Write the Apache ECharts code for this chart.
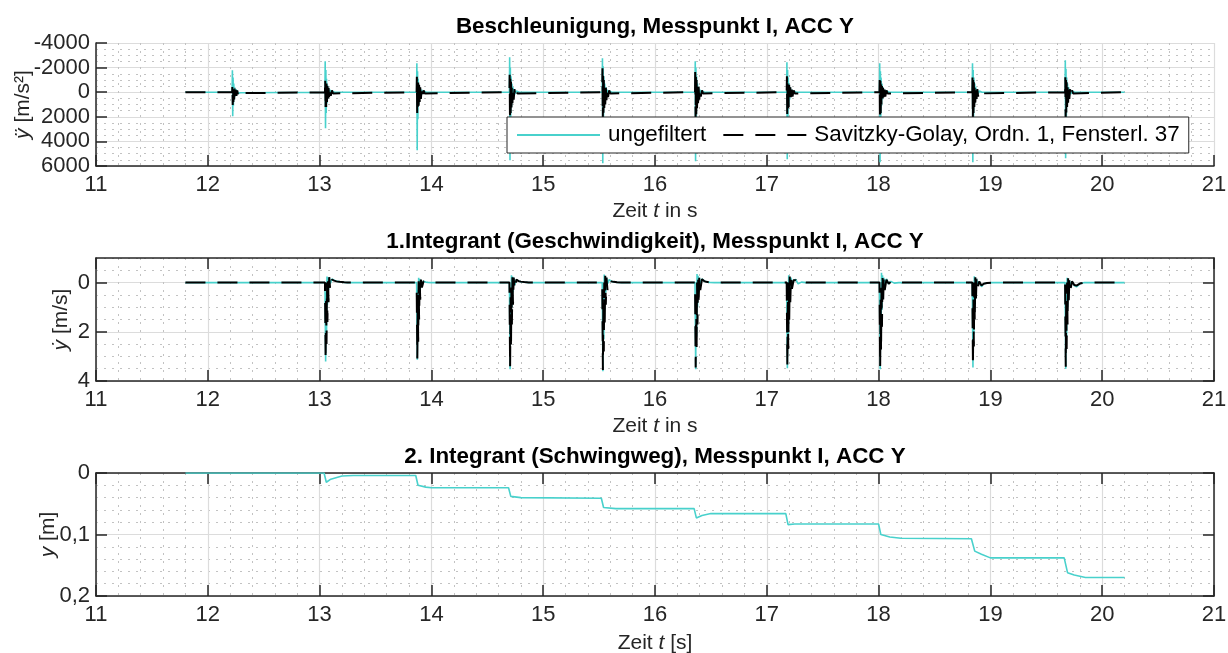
<!DOCTYPE html>
<html><head><meta charset="utf-8">
<script src="https://cdn.jsdelivr.net/npm/echarts@6/dist/echarts.min.js"></script>
<style>html,body{margin:0;padding:0;background:#fff}#c{width:1228px;height:653px}</style>
</head><body><div id="c"></div>
<script>
// ---------- data ----------
const timeRange = [11.8, 20.2];

// acceleration bursts (m/s^2), sampled at accOffsets after each impact
const accImpactTimes = [12.22, 13.05, 13.87, 14.70, 15.53, 16.36, 17.18, 18.01, 18.84, 19.67];
const accOffsets = [0, 0.003, 0.006, 0.009, 0.012, 0.016, 0.02, 0.025, 0.03, 0.036, 0.043, 0.05, 0.06, 0.07, 0.085];
const accRaw = [
  [-1790, 1950, -1200, 1100, -700, 600, -400, 350, -250, 200, -150, 100, -60, 40, 0],
  [-2520, 2930, -1800, 1700, -1100, 900, -600, 500, -350, 300, -200, 150, -100, 50, 0],
  [-2360, 4720, -1700, 2200, -1100, 1000, -600, 500, -350, 300, -200, 150, -100, 50, 0],
  [-2850, 5530, -2000, 2400, -1300, 1200, -700, 600, -400, 300, -200, 150, -100, 50, 0],
  [-2760, 5770, -2100, 2500, -1300, 1200, -700, 600, -400, 300, -200, 150, -100, 50, 0],
  [-2520, 5610, -2000, 2400, -1300, 1200, -700, 600, -400, 300, -200, 150, -100, 50, 0],
  [-2440, 5450, -1800, 2300, -1200, 1100, -700, 600, -400, 300, -200, 150, -100, 50, 0],
  [-2360, 5690, -1700, 2400, -1200, 1100, -700, 600, -400, 300, -200, 150, -100, 50, 0],
  [-2360, 5690, -1800, 2400, -1200, 1100, -700, 600, -400, 300, -200, 150, -100, 50, 0],
  [-2600, 5370, -1900, 2300, -1200, 1100, -700, 600, -400, 300, -200, 150, -100, 50, 0]
];
const accFilt = [
  [-590, 1030, -500, 800, -400, 600, -300, 450, -200, 300, -150, 200, -100, 80, 0],
  [-1140, 1440, -900, 1200, -700, 900, -500, 650, -350, 450, -250, 300, -150, 100, 0],
  [-1250, 1860, -1000, 1500, -800, 1100, -600, 800, -400, 550, -250, 350, -150, 100, 0],
  [-1410, 2300, -1100, 1700, -850, 1250, -600, 900, -400, 600, -250, 350, -150, 100, 0],
  [-1950, 2500, -1400, 1900, -1000, 1400, -700, 1000, -450, 650, -300, 400, -150, 100, 0],
  [-2030, 2400, -1400, 1800, -1000, 1300, -700, 900, -450, 600, -300, 350, -150, 100, 0],
  [-1300, 2030, -1000, 1600, -800, 1200, -600, 850, -400, 550, -250, 350, -150, 100, 0],
  [-1000, 2300, -900, 1700, -700, 1200, -500, 850, -350, 550, -250, 350, -150, 100, 0],
  [-1220, 2300, -1000, 1700, -800, 1200, -550, 850, -350, 550, -250, 350, -150, 100, 0],
  [-1220, 2200, -1000, 1650, -800, 1200, -550, 850, -350, 550, -250, 350, -150, 100, 0]
];

// velocity bursts (m/s)
const velImpactTimes = [13.05, 13.87, 14.70, 15.53, 16.36, 17.18, 18.01, 18.84, 19.67];
const velOffsets = [0, 0.004, 0.008, 0.012, 0.016, 0.02, 0.025, 0.03, 0.036, 0.045, 0.06, 0.08, 0.1, 0.13, 0.17, 0.2];
const velRaw = [
  [0, 3.21, 0.4, 2.0, -0.25, 0.9, -0.22, 0.3, -0.2, 0.05, -0.15, -0.1, -0.06, -0.03, -0.01, 0],
  [0, 3.14, 0.3, 1.9, -0.2, 0.8, -0.15, 0.3, -0.1, 0.05, -0.05, -0.02, -0.01, 0, 0, 0],
  [0, 3.52, 0.4, 2.2, -0.3, 1.0, -0.25, 0.4, -0.2, 0.1, -0.12, -0.06, -0.04, -0.02, 0, 0],
  [0, 3.60, 0.5, 2.3, -0.33, 1.1, -0.25, 0.4, -0.2, 0.05, -0.12, -0.05, -0.03, -0.01, 0, 0],
  [0, 3.52, 0.5, 2.2, -0.35, 1.0, -0.28, 0.4, -0.2, 0.05, -0.15, -0.06, -0.03, -0.01, 0, 0],
  [0, 3.48, 0.4, 2.2, -0.3, 1.0, -0.22, 0.35, -0.2, 0.05, -0.1, -0.12, 0.05, -0.02, 0, 0],
  [0, 3.52, 0.5, 2.3, -0.4, 1.1, -0.3, 0.4, -0.2, 0.1, -0.15, 0.05, -0.05, 0.02, 0, 0],
  [0, 3.45, 0.4, 2.1, -0.26, 0.9, -0.2, 0.3, -0.15, 0.05, -0.05, 0.17, 0.05, 0.02, 0, 0],
  [0, 3.50, 0.5, 2.2, -0.2, 1.0, -0.15, 0.4, -0.1, 0.15, -0.05, 0.12, 0.17, 0.05, 0, 0]
];
const velFilt = [
  [0, 3.15, 0.6, 2.5, 0.0, 1.6, -0.2, 0.8, -0.22, 0.3, -0.12, -0.08, -0.05, -0.03, -0.01, 0],
  [0, 3.08, 0.5, 2.4, -0.05, 1.5, -0.18, 0.7, -0.12, 0.2, -0.06, -0.03, -0.01, 0, 0, 0],
  [0, 3.45, 0.6, 2.7, 0.0, 1.7, -0.25, 0.9, -0.2, 0.3, -0.12, -0.06, -0.04, -0.02, 0, 0],
  [0, 3.55, 0.7, 2.8, 0.0, 1.8, -0.28, 0.9, -0.2, 0.3, -0.12, -0.05, -0.03, -0.01, 0, 0],
  [0, 3.45, 0.7, 2.7, 0.0, 1.7, -0.3, 0.9, -0.22, 0.3, -0.14, -0.06, -0.03, -0.01, 0, 0],
  [0, 3.42, 0.6, 2.7, 0.0, 1.7, -0.25, 0.8, -0.2, 0.25, -0.1, -0.1, 0.04, -0.02, 0, 0],
  [0, 3.45, 0.7, 2.8, 0.0, 1.8, -0.35, 0.9, -0.2, 0.3, -0.12, 0.05, -0.04, 0.02, 0, 0],
  [0, 3.38, 0.6, 2.6, 0.0, 1.6, -0.22, 0.8, -0.15, 0.25, -0.05, 0.12, 0.05, 0.02, 0, 0],
  [0, 3.42, 0.7, 2.7, 0.0, 1.7, -0.18, 0.9, -0.1, 0.3, -0.05, 0.1, 0.12, 0.04, 0, 0]
];

// displacement (m)
const dispTime = [11.8, 13.04, 13.06, 13.1, 13.2, 13.3, 13.86, 13.88, 13.95, 14.0, 14.69, 14.71, 14.8, 15.52, 15.54, 15.65,
  16.35, 16.37, 16.42, 16.5, 17.17, 17.19, 17.25, 18.0, 18.02, 18.1, 18.2, 18.83, 18.86, 18.92, 19.0, 19.66, 19.69, 19.75, 19.85, 20.2];
const dispValue = [0, 0, 0.015, 0.01, 0.005, 0.004, 0.004, 0.02, 0.023, 0.024, 0.024, 0.038, 0.040, 0.041, 0.056, 0.058,
  0.058, 0.073, 0.069, 0.066, 0.066, 0.084, 0.083, 0.083, 0.1, 0.104, 0.106, 0.107, 0.127, 0.132, 0.138, 0.138, 0.162, 0.166, 0.170, 0.170];

const titles = ['Beschleunigung, Messpunkt I, ACC Y', '1.Integrant (Geschwindigkeit), Messpunkt I, ACC Y', '2. Integrant (Schwingweg), Messpunkt I, ACC Y'];
const legendNames = ['ungefiltert', 'Savitzky-Golay, Ordn. 1, Fensterl. 37'];

// ---------- build ----------
function buildBursts(times, offsets, bursts) {
  const d = [[timeRange[0], 0]];
  times.forEach((t0, i) => {
    d.push([t0 - 0.002, 0]);
    offsets.forEach((o, k) => d.push([t0 + o, bursts[i][k]]));
  });
  d.push([timeRange[1], 0]);
  return d;
}
const accRawData = buildBursts(accImpactTimes, accOffsets, accRaw);
const accFiltData = buildBursts(accImpactTimes, accOffsets, accFilt);
const velRawData = buildBursts(velImpactTimes, velOffsets, velRaw);
const velFiltData = buildBursts(velImpactTimes, velOffsets, velFilt);
const dispData = dispTime.map((t, i) => [t, dispValue[i]]);

const FONT = '"Liberation Sans", Arial, Helvetica, sans-serif';
const AX = '#262626';
const CYAN = '#48D1CC';
const MAJ = '#dcdcdc';
const MIN = '#c2c2c2';
const gridTops = [43, 258, 473];
const gridH = 123;
const FS = 22;

function nameStyle() {
  return { fontSize: 21, color: AX, fontFamily: FONT,
    rich: { i: { fontStyle: 'italic', fontSize: 21, color: AX, fontFamily: FONT } } };
}
function mainX(gi, name, gap) {
  return { type: 'value', gridIndex: gi, min: 11, max: 21, interval: 1, position: 'bottom',
    name: name, nameLocation: 'middle', nameGap: gap, nameTextStyle: nameStyle(), nameMoveOverlap: false,
    axisLine: { show: true, onZero: false, lineStyle: { color: AX, width: 1.5 } },
    axisTick: { show: true, inside: true, length: 11, lineStyle: { color: AX, width: 1.5 } },
    axisLabel: { show: true, margin: 8, fontSize: FS, color: AX, fontFamily: FONT, hideOverlap: false },
    splitLine: { show: true, lineStyle: { color: MAJ, width: 1.2 } },
    minorTick: { show: false, splitNumber: 5 },
    minorSplitLine: { show: true, lineStyle: { color: MIN, width: 1, type: [2, 6] } }
  };
}
function mirrorX(gi) {
  return { type: 'value', gridIndex: gi, min: 11, max: 21, interval: 1, position: 'top',
    axisLine: { show: true, onZero: false, lineStyle: { color: AX, width: 1.5 } },
    axisTick: { show: true, inside: true, length: 11, lineStyle: { color: AX, width: 1.5 } },
    axisLabel: { show: false }, splitLine: { show: false } };
}
const yLabel = { show: true, margin: 6, fontSize: FS, color: AX, fontFamily: FONT, hideOverlap: false };

const option = {
  animation: false,
  backgroundColor: '#fff',
  textStyle: { fontFamily: FONT },
  title: titles.map((t, i) => ({
    text: t, left: 655, textAlign: 'center', top: gridTops[i] - 27, padding: 0,
    textStyle: { fontSize: 22.4, fontWeight: 'bold', color: '#000', fontFamily: FONT }
  })),
  legend: {
    data: legendNames, left: 507, top: 117, orient: 'horizontal',
    padding: [7, 9], itemWidth: 83, itemHeight: 14, itemGap: 16,
    backgroundColor: '#fff', borderColor: AX, borderWidth: 1, borderRadius: 0,
    selectedMode: false,
    itemStyle: { color: 'rgba(0,0,0,0)', borderWidth: 0, opacity: 0 },
    textStyle: { fontSize: 22.4, color: '#000', fontFamily: FONT, padding: [0, 0, 0, 3] }
  },
  grid: gridTops.map(t => ({ left: 96, right: 14, top: t, height: gridH, containLabel: false, outerBoundsMode: 'none' })),
  xAxis: [
    mainX(0, 'Zeit {i|t} in s', 35),
    mainX(1, 'Zeit {i|t} in s', 35),
    mainX(2, 'Zeit {i|t} [s]', 37),
    mirrorX(1),
    mirrorX(2)
  ],
  yAxis: [
    { type: 'value', gridIndex: 0, min: -4000, max: 6000, interval: 2000, inverse: true, position: 'left',
      name: '{i|ÿ} [m/s²]', nameLocation: 'middle', nameGap: 62, nameRotate: 90, nameTextStyle: nameStyle(), nameMoveOverlap: false,
      axisLine: { show: true, onZero: false, lineStyle: { color: AX, width: 1.5 } },
      axisTick: { show: true, inside: true, length: 11, lineStyle: { color: AX, width: 1.5 } },
      axisLabel: Object.assign({ formatter: v => String(v) }, yLabel),
      splitLine: { show: true, lineStyle: { color: MAJ, width: 1.2 } },
      minorTick: { show: false, splitNumber: 4 },
      minorSplitLine: { show: true, lineStyle: { color: MIN, width: 1, type: [2, 6] } } },
    { type: 'value', gridIndex: 1, min: -1, max: 4, inverse: true, position: 'left',
      name: '{i|ẏ} [m/s]', nameLocation: 'middle', nameGap: 24, nameRotate: 90, nameTextStyle: nameStyle(), nameMoveOverlap: false,
      axisLine: { show: true, onZero: false, lineStyle: { color: AX, width: 1.5 } },
      axisTick: { show: true, inside: true, length: 11, customValues: [0, 2, 4], lineStyle: { color: AX, width: 1.5 } },
      axisLabel: Object.assign({ customValues: [0, 2, 4], formatter: v => String(v) }, yLabel),
      splitLine: { show: true, lineStyle: { color: MAJ, width: 1.2 } } },
    { type: 'value', gridIndex: 2, min: 0, max: 0.2, interval: 0.1, inverse: true, position: 'left',
      name: '{i|y} [m]', nameLocation: 'middle', nameGap: 37, nameRotate: 90, nameTextStyle: nameStyle(), nameMoveOverlap: false,
      axisLine: { show: true, onZero: false, lineStyle: { color: AX, width: 1.5 } },
      axisTick: { show: true, inside: true, length: 11, lineStyle: { color: AX, width: 1.5 } },
      axisLabel: Object.assign({ formatter: v => String(Number(v.toFixed(3))).replace('.', ',') }, yLabel),
      splitLine: { show: true, lineStyle: { color: MAJ, width: 1.2 } },
      minorTick: { show: false, splitNumber: 5 },
      minorSplitLine: { show: true, lineStyle: { color: MIN, width: 1, type: [2, 6] } } },
    { type: 'value', gridIndex: 1, min: -1, max: 4, inverse: true, position: 'right',
      axisLine: { show: true, onZero: false, lineStyle: { color: AX, width: 1.5 } },
      axisTick: { show: true, inside: true, length: 11, customValues: [0, 2, 4], lineStyle: { color: AX, width: 1.5 } },
      axisLabel: { show: false }, splitLine: { show: false } },
    { type: 'value', gridIndex: 2, min: 0, max: 0.2, interval: 0.1, inverse: true, position: 'right',
      axisLine: { show: true, onZero: false, lineStyle: { color: AX, width: 1.5 } },
      axisTick: { show: true, inside: true, length: 11, lineStyle: { color: AX, width: 1.5 } },
      axisLabel: { show: false }, splitLine: { show: false } },
    { type: 'value', gridIndex: 1, min: -1, max: 4, interval: 0.5, inverse: true, position: 'left', z: -1,
      axisLine: { show: false }, axisTick: { show: false }, axisLabel: { show: false },
      splitLine: { show: true, lineStyle: { color: [MIN, MIN, 'rgba(0,0,0,0)', MIN], width: 1, type: [2, 6] } } }
  ],
  series: [
    { name: legendNames[0], type: 'line', xAxisIndex: 0, yAxisIndex: 0, data: accRawData, symbol: 'none',
      lineStyle: { color: CYAN, width: 1.6 }, itemStyle: { color: CYAN }, z: 2 },
    { name: legendNames[1], type: 'line', xAxisIndex: 0, yAxisIndex: 0, data: accFiltData, symbol: 'none',
      lineStyle: { color: '#000', width: 2, type: [20, 12] }, itemStyle: { color: '#000' }, z: 3 },
    { name: legendNames[0], type: 'line', xAxisIndex: 1, yAxisIndex: 1, data: velRawData, symbol: 'none',
      lineStyle: { color: CYAN, width: 1.6 }, itemStyle: { color: CYAN }, z: 2 },
    { name: legendNames[1], type: 'line', xAxisIndex: 1, yAxisIndex: 1, data: velFiltData, symbol: 'none',
      lineStyle: { color: '#000', width: 2, type: [20, 12] }, itemStyle: { color: '#000' }, z: 3 },
    { name: legendNames[0], type: 'line', xAxisIndex: 2, yAxisIndex: 2, data: dispData, symbol: 'none',
      lineStyle: { color: CYAN, width: 1.6 }, itemStyle: { color: CYAN }, z: 2 }
  ]
};
const chart = echarts.init(document.getElementById('c'), null, { renderer: 'canvas' });
chart.setOption(option);
</script>
</body></html>
